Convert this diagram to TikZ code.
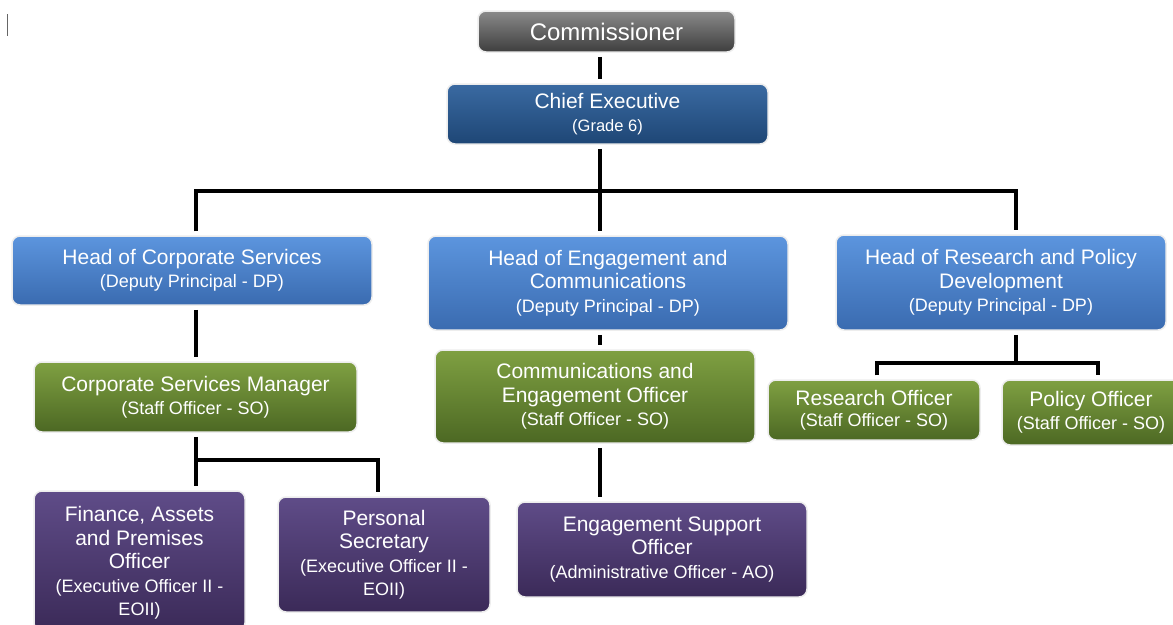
\documentclass[tikz,border=0pt]{standalone}
\usepackage{fontspec}
\setmainfont{Liberation Sans}
\definecolor{gtop}{HTML}{8A8A8A}\definecolor{gbot}{HTML}{3E3E3E}
\definecolor{dbtop}{HTML}{3A6AA2}\definecolor{dbbot}{HTML}{1E4675}
\definecolor{lbtop}{HTML}{5C95DE}\definecolor{lbbot}{HTML}{3A6BB0}
\definecolor{grtop}{HTML}{7FA042}\definecolor{grbot}{HTML}{4C6823}
\definecolor{putop}{HTML}{5F4C88}\definecolor{pubot}{HTML}{3B2A58}
\newcommand{\subt}[1]{{\fontsize{18}{20}\selectfont #1}}
\newcommand{\subg}[1]{{\fontsize{16.5}{20}\selectfont #1}}
\tikzset{
  box/.style={rounded corners=8pt, align=center, text=white, inner sep=0pt,
    draw=black!7, line width=1.5pt, font=\fontsize{21}{23.5}\selectfont},
  graybox/.style={box, top color=gtop, bottom color=gbot},
  dbluebox/.style={box, top color=dbtop, bottom color=dbbot},
  lbluebox/.style={box, top color=lbtop, bottom color=lbbot},
  greenbox/.style={box, top color=grtop, bottom color=grbot},
  purplebox/.style={box, top color=putop, bottom color=pubot},
  conn/.style={draw=black, line width=3.2pt, shorten <=4pt, shorten >=4pt},
}
\begin{document}
\begin{tikzpicture}[x=1pt,y=-1pt]
\useasboundingbox (0,0) rectangle (1173,624);
\fill[white] (0,0) rectangle (1173,624);
% small mark
\draw[black!60, line width=1pt] (7.5,14) -- (7.5,36);
% nodes
\node[graybox, minimum width=257, minimum height=41, font=\fontsize{24}{26}\selectfont] (comm) at (606.5,31.5) {Commissioner};
\node[dbluebox, minimum width=321, minimum height=60] (ce) at (607.5,114) {Chief Executive\\\subg{(Grade 6)}};
\node[lbluebox, minimum width=360, minimum height=69] (hcs) at (192,270.5) {Head of Corporate Services\\\subt{(Deputy Principal - DP)}};
\node[lbluebox, minimum width=360, minimum height=94] (hec) at (608,283) {Head of Engagement and\\Communications\\\subt{(Deputy Principal - DP)}};
\node[lbluebox, minimum width=330, minimum height=95] (hrp) at (1001,282.5) {Head of Research and Policy\\Development\\\subt{(Deputy Principal - DP)}};
\node[greenbox, minimum width=323, minimum height=70] (csm) at (195.5,397) {Corporate Services Manager\\\subt{(Staff Officer - SO)}};
\node[greenbox, minimum width=320, minimum height=93] (ceo) at (595,396.5) {Communications and\\Engagement Officer\\\subt{(Staff Officer - SO)}};
\node[greenbox, minimum width=212, minimum height=60, font=\fontsize{21}{21}\selectfont] (ro) at (874,410) {Research Officer\\\subt{(Staff Officer - SO)}};
\node[greenbox, minimum width=178, minimum height=65, font=\fontsize{21}{23}\selectfont] (po) at (1091,412.5) {Policy Officer\\\subt{(Staff Officer - SO)}};
\node[purplebox, minimum width=211, minimum height=140, text depth=0pt] (fin) at (139.5,561) {Finance, Assets\\and Premises\\Officer\\\subt{(Executive Officer II -}\\\subt{EOII)}};
\node[purplebox, minimum width=212, minimum height=115] (ps) at (384,554.5) {Personal\\Secretary\\\subt{(Executive Officer II -}\\\subt{EOII)}};
\node[purplebox, minimum width=290, minimum height=95] (eso) at (662,549.5) {Engagement Support\\Officer\\\subt{(Administrative Officer - AO)}};
% connector coordinates
\coordinate (cx) at (600,0);
\coordinate (lx) at (196,0);
\coordinate (rx) at (1016,0);
\coordinate (psx) at (378,0);
\coordinate (rox) at (877,0);
\coordinate (pox) at (1098,0);
\coordinate (topbus) at (600,191);
\coordinate (leftbus) at (196,460);
\coordinate (rightbus) at (1016,363);
% connectors
\draw[conn] (comm.south -| cx) -- (ce.north -| cx);
\draw[conn] (ce.south -| cx) -- (hec.north -| cx);
\draw[conn] (hcs.north -| lx) -- (topbus -| lx) -- (topbus -| rx) -- (hrp.north -| rx);
\draw[conn] (hcs.south -| lx) -- (csm.north -| lx);
\draw[conn] (csm.south -| lx) -- (fin.north -| lx);
\draw[conn, shorten <=0pt] (leftbus) -- (leftbus -| psx) -- (ps.north -| psx);
\draw[conn] (hec.south -| cx) -- (ceo.north -| cx);
\draw[conn] (ceo.south -| cx) -- (eso.north -| cx);
\draw[conn, shorten >=0pt] (hrp.south -| rx) -- (rightbus);
\draw[conn] (ro.north -| rox) -- (rightbus -| rox) -- (rightbus -| pox) -- (po.north -| pox);
\end{tikzpicture}
\end{document}
